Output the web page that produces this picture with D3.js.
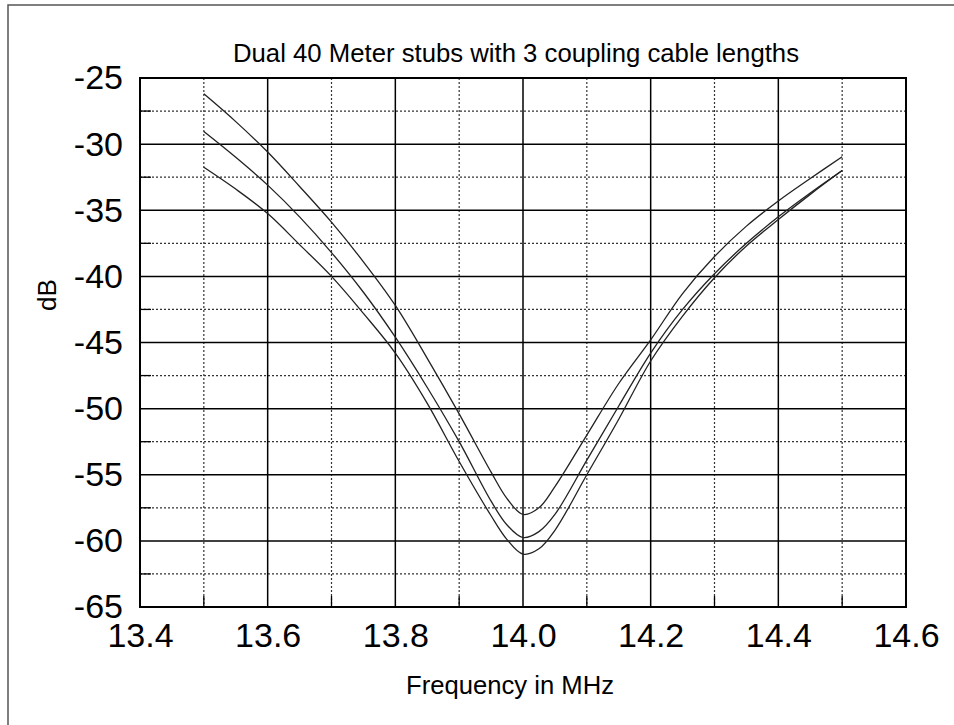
<!DOCTYPE html>
<html>
<head>
<meta charset="utf-8">
<script src="https://cdn.jsdelivr.net/npm/d3@7"></script>
<style>
  html, body { margin: 0; padding: 0; background: #fff; }
  svg { display: block; }
  text { font-family: "Liberation Sans", Arial, sans-serif; fill: #000; }
</style>
</head>
<body>
<svg id="chart" width="954" height="725"></svg>
<script>
// ---- data ----
const freqs = [13.50, 13.55, 13.60, 13.65, 13.70, 13.75, 13.80, 13.85, 13.90, 13.95, 13.975,
               14.00, 14.025, 14.05, 14.10, 14.15, 14.20, 14.25, 14.30, 14.35, 14.40, 14.45, 14.50];
const cableA = [-26.2, -28.3, -30.6, -33.2, -35.9, -38.9, -42.2, -46.2, -50.4, -54.8, -56.8,
                -58.0, -57.5, -55.9, -52.0, -48.1, -44.8, -41.3, -38.5, -36.2, -34.3, -32.6, -30.95];
const cableB = [-29.05, -31.0, -33.1, -35.5, -38.2, -41.2, -44.6, -48.4, -52.5, -57.0, -58.8,
                -59.75, -59.3, -58.0, -53.9, -49.8, -45.8, -42.5, -39.8, -37.5, -35.5, -33.7, -32.0];
const cableC = [-31.75, -33.4, -35.25, -37.6, -40.0, -42.8, -45.8, -49.6, -54.0, -58.1, -59.9,
                -61.0, -60.6, -59.2, -55.0, -50.8, -46.4, -43.0, -40.1, -37.7, -35.7, -33.8, -32.0];
const xTicks = [13.4, 13.6, 13.8, 14.0, 14.2, 14.4, 14.6];
const xMinor = [13.5, 13.7, 13.9, 14.1, 14.3, 14.5];
const yTicks = [-65, -60, -55, -50, -45, -40, -35, -30, -25];
const yMinor = [-62.5, -57.5, -52.5, -47.5, -42.5, -37.5, -32.5, -27.5];
const titleText = "Dual 40 Meter stubs with 3 coupling cable lengths";
const xTitle = "Frequency in MHz";
const yTitle = "dB";

// ---- drawing ----
const svg = d3.select("#chart");
const L = 140, R = 906, T = 78, B = 607;
const x = d3.scaleLinear().domain([13.4, 14.6]).range([L, R]);
const y = d3.scaleLinear().domain([-65, -25]).range([B, T]);

// outer frame
svg.append("rect").attr("x", 8).attr("y", 5).attr("width", 1000).attr("height", 800)
  .attr("fill", "none").attr("stroke", "#555").attr("stroke-width", 1.5);

const g = svg.append("g");

// minor grid (dotted)
g.selectAll(".vmin").data(xMinor).join("line")
  .attr("x1", d => x(d)).attr("x2", d => x(d)).attr("y1", T).attr("y2", B)
  .attr("stroke", "#333").attr("stroke-width", 1.2).attr("stroke-dasharray", "2,2");
g.selectAll(".hmin").data(yMinor).join("line")
  .attr("x1", L).attr("x2", R).attr("y1", d => y(d)).attr("y2", d => y(d))
  .attr("stroke", "#333").attr("stroke-width", 1.2).attr("stroke-dasharray", "2,2");

// minor ticks (solid short) on left and bottom
g.selectAll(".ltick").data(yMinor).join("line")
  .attr("x1", L).attr("x2", L + 11).attr("y1", d => y(d)).attr("y2", d => y(d))
  .attr("stroke", "#000").attr("stroke-width", 1.3);
g.selectAll(".btick").data(xMinor).join("line")
  .attr("x1", d => x(d)).attr("x2", d => x(d)).attr("y1", B).attr("y2", B - 11)
  .attr("stroke", "#000").attr("stroke-width", 1.3);

// major grid (solid)
g.selectAll(".vmaj").data(xTicks).join("line")
  .attr("x1", d => x(d)).attr("x2", d => x(d)).attr("y1", T).attr("y2", B)
  .attr("stroke", "#000").attr("stroke-width", 1.5);
g.selectAll(".hmaj").data(yTicks).join("line")
  .attr("x1", L).attr("x2", R).attr("y1", d => y(d)).attr("y2", d => y(d))
  .attr("stroke", "#000").attr("stroke-width", 1.5);

// plot border
g.append("rect").attr("x", L).attr("y", T).attr("width", R - L).attr("height", B - T)
  .attr("fill", "none").attr("stroke", "#000").attr("stroke-width", 2);

// curves
const line = d3.line().x(d => x(d[0])).y(d => y(d[1])).curve(d3.curveCatmullRom.alpha(0.5));
[cableA, cableB, cableC].forEach(series => {
  g.append("path").datum(freqs.map((f, i) => [f, series[i]]))
    .attr("d", line).attr("fill", "none").attr("stroke", "#222").attr("stroke-width", 1.3);
});

// axes (labels only)
const yAxis = d3.axisLeft(y).tickValues(yTicks).tickSize(0).tickPadding(17).tickFormat(d => String(d));
const ya = svg.append("g").attr("transform", `translate(${L},0)`).call(yAxis);
ya.select(".domain").remove();
ya.selectAll("text").style("font-size", "34px").attr("fill", "#000")
  .style("font-family", "'Liberation Sans', Arial, sans-serif");

const xAxis = d3.axisBottom(x).tickValues(xTicks).tickSize(0).tickPadding(16).tickFormat(d3.format(".1f"));
const xa = svg.append("g").attr("transform", `translate(0,${B})`).call(xAxis);
xa.select(".domain").remove();
xa.selectAll("text").style("font-size", "34px").attr("fill", "#000")
  .style("font-family", "'Liberation Sans', Arial, sans-serif");

// titles
svg.append("text").attr("x", 516).attr("y", 62).attr("text-anchor", "middle")
  .style("font-size", "26px").attr("textLength", 566).attr("lengthAdjust", "spacingAndGlyphs")
  .text(titleText);
svg.append("text").attr("x", 510).attr("y", 694).attr("text-anchor", "middle")
  .style("font-size", "26px").attr("textLength", 208).attr("lengthAdjust", "spacingAndGlyphs")
  .text(xTitle);
svg.append("text").attr("transform", "translate(56,295) rotate(-90)").attr("text-anchor", "middle")
  .style("font-size", "26px").text(yTitle);
</script>
</body>
</html>
